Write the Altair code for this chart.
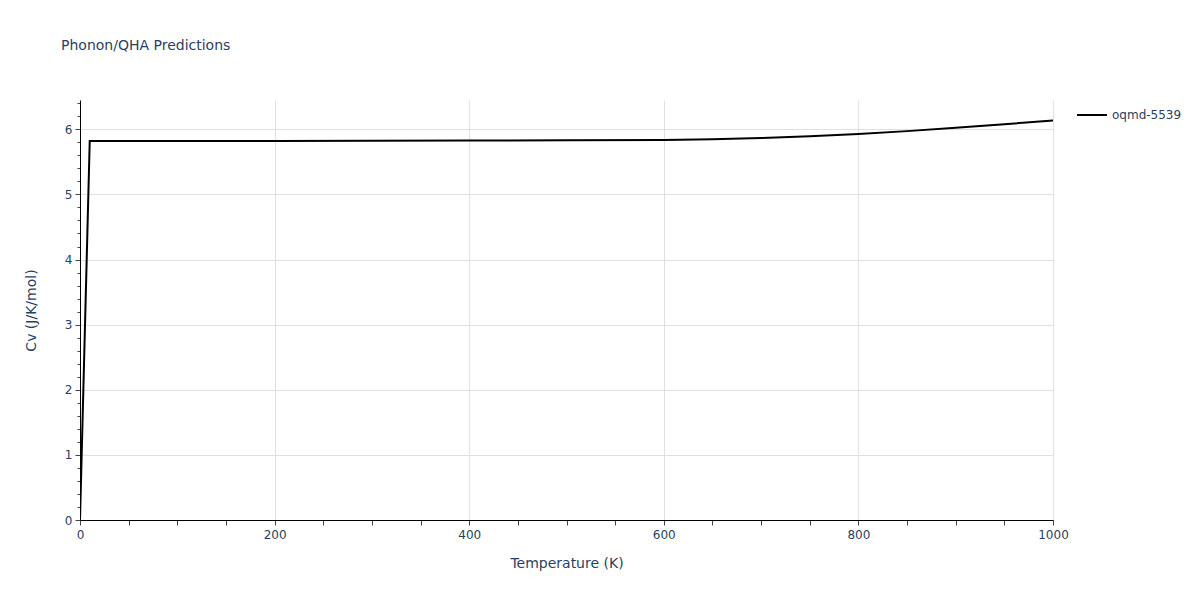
import altair as alt
import pandas as pd

temperature = [0, 10, 100, 200, 300, 400, 500, 600, 650, 700, 750, 800, 850, 900, 950, 1000]
cv = [0.0, 5.82, 5.82, 5.822, 5.825, 5.828, 5.831, 5.836, 5.846, 5.865, 5.892, 5.927, 5.972, 6.024, 6.078, 6.135]
series = ["oqmd-5539"] * len(temperature)

x_ticks = list(range(0, 1001, 50))
y_ticks = [round(i * 0.2, 1) for i in range(0, 33)]

df = pd.DataFrame({"T": temperature, "Cv": cv, "s": series})

FONT = "DejaVu Sans"
TXT = "#2a3f5f"

chart = alt.Chart(df).mark_line(strokeWidth=2, clip=True).encode(
    x=alt.X("T:Q", scale=alt.Scale(domain=[0, 1000], nice=False, zero=False),
            axis=alt.Axis(title="Temperature (K)", values=x_ticks, format="d",
                          labelExpr="datum.value % 200 === 0 ? datum.label : ''",
                          gridOpacity={"expr": "datum.value % 200 === 0 ? 1 : 0"},
                          labelFlush=False, labelOverlap=False,
                          tickSize=5, labelPadding=4, titlePadding=16)),
    y=alt.Y("Cv:Q", scale=alt.Scale(domain=[0, 6.45], nice=False),
            axis=alt.Axis(title="Cv (J/K/mol)", values=y_ticks,
                          labelExpr="abs(datum.value - round(datum.value)) < 0.001 ? format(datum.value, 'd') : ''",
                          gridOpacity={"expr": "abs(datum.value - round(datum.value)) < 0.001 ? 1 : 0"},
                          tickSize={"expr": "abs(datum.value - round(datum.value)) < 0.001 ? 5 : 3"},
                          labelFlush=False, labelOverlap=False,
                          labelPadding=3, titlePadding=26)),
    color=alt.Color("s:N", scale=alt.Scale(range=["#000000"]),
                    legend=alt.Legend(title=None, orient="none", legendX=996, legendY=-1,
                                      symbolType="stroke", symbolSize=900, symbolStrokeWidth=2,
                                      labelFontSize=12, labelColor=TXT, labelFont=FONT)),
).properties(
    width=973, height=420,
    title=alt.TitleParams("Phonon/QHA Predictions", anchor="start", frame="group", dx=-19, offset=44,
                          fontSize=14, font=FONT, color=TXT, fontWeight="normal"),
    autosize=alt.AutoSizeParams(type="none"),
    padding={"left": 72, "top": 92, "right": 139, "bottom": 72},
).configure_axis(
    domainColor="#000000", domainWidth=1, tickColor="#444444", gridColor="#e0e0e0",
    labelFont=FONT, labelFontSize=12, labelColor=TXT,
    titleFont=FONT, titleFontSize=14, titleColor=TXT, titleFontWeight="normal",
).configure_view(stroke=None)

chart.save("out.html", embed_options={"renderer": "svg", "actions": False})
